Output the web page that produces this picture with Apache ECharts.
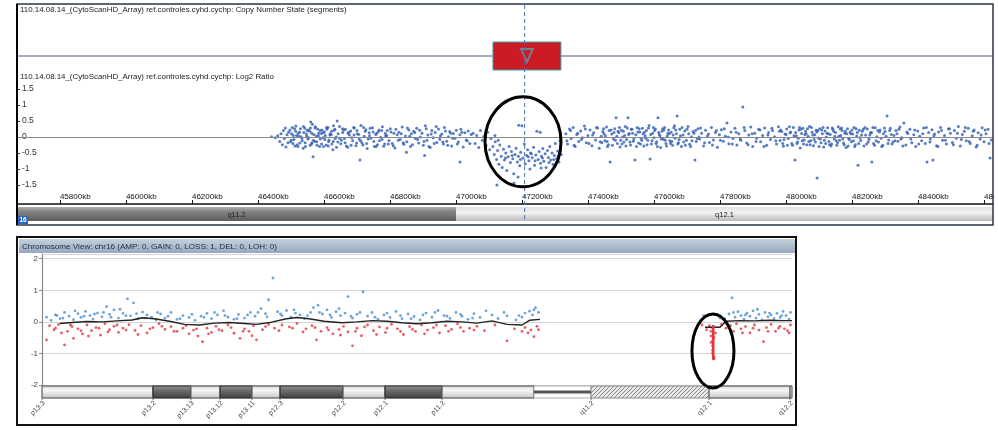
<!DOCTYPE html>
<html><head><meta charset="utf-8">
<script src="https://cdn.jsdelivr.net/npm/echarts@6/dist/echarts.min.js"></script>
<style>html,body{margin:0;padding:0;background:#fff}#c{width:998px;height:430px}</style>
</head><body><div id="c"></div>
<script>
// ---------- texts ----------
const titleCN = '110.14.08.14_(CytoScanHD_Array) ref.controles.cyhd.cychp: Copy Number State (segments)';
const titleLog2 = '110.14.08.14_(CytoScanHD_Array) ref.controles.cyhd.cychp: Log2 Ratio';
const titleChrom = 'Chromosome View: chr16 (AMP: 0, GAIN: 0, LOSS: 1, DEL: 0, LOH: 0)';
const chromNumber = '16';

// ---------- top panel (kb) ----------
const kbMin = 45670, kbMax = 48627;
const cursorKb = 47208;
const cnSegStart = [45670, 47112, 47318];
const cnSegEnd = [47112, 47318, 48627];
const cnSegState = [2, 1, 2];
const topBandNames = ['q11.2', 'q12.1'];
const topBandStart = [45670, 47000];
const topBandEnd = [47000, 48627];
const topBandStain = ['gpos', 'gneg'];
const topEllipse = [47203, -0.15];

const log2Start = [[46441,0.01],[46452,-0.02],[46460,0.04],[46466,-0.14],[46470,0.1],[46474,-0.24],[46477,0.2],[46480,-0.05],[46483,0.28],[46485,-0.31],[46488,0.07],[46491,-0.18],[46493,0.15]];
const log2Left = [
[46497,0.22],[46501,-0.1],[46507,0.05],[46512,-0.28],[46515,0.34],[46522,0.12],[46527,-0.19],[46531,0.01],[46537,-0.35],[46542,0.27],
[46547,0.09],[46551,-0.06],[46557,0.18],[46562,-0.22],[46565,0.4],[46572,-0.13],[46577,0.03],[46581,0.25],[46587,-0.3],[46592,0.11],
[46597,-0.02],[46601,0.16],[46607,-0.25],[46612,0.3],[46615,-0.09],[46622,0.07],[46627,-0.4],[46631,0.21],[46637,0.0],[46642,-0.16],
[46647,0.33],[46651,-0.21],[46657,0.14],[46662,-0.05],[46665,0.24],[46672,-0.32],[46677,0.06],[46681,0.19],[46687,-0.12],[46692,0.28],
[46697,-0.27],[46701,0.1],[46707,-0.07],[46712,0.36],[46715,-0.18],[46722,0.02],[46727,0.23],[46731,-0.36],[46737,0.13],[46742,-0.04],
[46747,0.29],[46751,-0.14],[46757,0.08],[46762,-0.24],[46765,0.17],[46772,-0.01],[46777,0.32],[46781,-0.29],[46787,0.04],[46792,0.2],
[46797,-0.11],[46801,0.26],[46807,-0.2],[46812,0.12],[46815,-0.34],[46822,0.07],[46827,0.15],[46831,-0.08],[46837,0.31],[46842,-0.23],
[46847,0.03],[46851,-0.15],[46857,0.22],[46862,-0.3],[46865,0.1],[46872,0.18],[46877,-0.05],[46881,0.27],[46887,-0.19],[46892,0.0],
[46897,0.12],[46901,-0.26],[46907,0.35],[46912,-0.1],[46915,0.06],[46922,-0.33],[46927,0.2],[46931,-0.02],[46937,0.14],[46942,-0.17],
[46947,0.25],[46951,-0.07],[46957,0.09],[46962,-0.22],[46965,0.3],[46972,-0.13],[46977,0.01],[46981,0.17],[46987,-0.28],[46992,0.11],
[46997,-0.04],[47001,0.21],[47007,-0.16],[47012,0.07],[47015,0.24],[47022,-0.31],[47027,0.13],[47031,-0.09],[47037,0.19],[47042,-0.2],
[46567,-0.62],[46709,-0.72],[46560,0.47],[46850,-0.48],[47012,-0.78],[46640,0.5],[46905,-0.58],
[46499,-0.15],[46504,0.3],[46509,-0.08],[46514,0.18],[46519,-0.24],[46524,0.02],[46529,0.26],[46534,-0.12],[46539,0.14],[46544,-0.3],
[46549,0.2],[46554,-0.02],[46559,0.28],[46564,-0.18],[46569,0.08],[46574,0.32],[46579,-0.26],[46584,0.12],[46589,-0.06],[46594,0.22],
[46599,-0.3],[46604,0.05],[46609,0.24],[46614,-0.14],[46619,0.1],[46624,-0.22],[46629,0.35],[46634,-0.05],
[46653,-0.1],[46660,0.22],[46668,-0.28],[46675,0.15],[46684,-0.02],[46690,0.3],[46699,-0.19],[46705,0.08],[46718,-0.25],[46725,0.18],
[46734,-0.06],[46740,0.27],[46753,-0.3],[46760,0.12],[46768,-0.12],[46775,0.2],[46784,-0.22],[46790,0.05],[46803,0.16],[46810,-0.27],
[46818,0.24],[46825,-0.1],[46834,0.1],[46840,-0.18],[46853,0.28],[46860,0.02],[46868,-0.24],[46875,0.14],[46884,-0.08],[46890,0.21],
[46903,-0.14],[46910,0.26],[46918,-0.3],[46925,0.09],[46934,-0.2],[46940,0.33],[46953,0.04],[46960,-0.16],[46968,0.19],[46975,-0.26],
[46984,0.12],[46990,-0.04],[47004,-0.22],[47018,0.15],[47034,-0.12],[47046,0.08],
[46502,0.1],[46506,-0.2],[46511,0.26],[46517,0.05],[46521,-0.3],[46526,0.15],[46533,-0.04],[46538,0.33],[46543,-0.18],[46548,0.02],
[46553,0.22],[46558,-0.26],[46563,0.12],[46568,-0.1],[46573,0.28],[46578,-0.15],[46583,0.04],[46588,0.2],[46593,-0.22],[46598,0.14],
[46603,-0.08],[46608,0.3],[46613,-0.28],[46618,0.06],[46623,0.18],[46628,-0.14],[46633,0.24],[46638,-0.32],[46643,0.1],[46648,-0.04],
[46656,0.26],[46664,-0.18],[46673,0.12],[46682,-0.26],[46691,0.06],[46700,0.2],[46711,-0.12],[46720,0.3],[46729,-0.2],[46738,0.04],
[46749,0.16],[46758,-0.3],[46767,0.22],[46776,-0.08],[46786,0.12],[46795,-0.22],
[47052,0.12],[47058,-0.2],[47063,0.05],[47069,-0.33],[47074,0.2],[47080,-0.1],[47085,0.02],[47091,-0.26],[47096,0.15],[47102,-0.4],[47106,-0.05]];
const log2Loss = [
[47112,-0.3],[47116,-0.55],[47119,-0.15],[47123,-0.7],[47126,-0.42],[47130,-0.85],[47133,-0.25],[47137,-0.6],[47140,-0.95],[47144,-0.38],
[47147,-0.72],[47151,-0.5],[47154,-1.05],[47158,-0.62],[47161,-0.3],[47165,-0.8],[47168,-0.45],[47172,-0.68],[47175,-1.15],[47179,-0.55],
[47182,-0.35],[47186,-0.78],[47189,-0.6],[47193,-0.9],[47196,-0.48],[47200,0.35],[47203,-0.66],[47207,-0.22],[47210,-0.84],[47214,-0.58],
[47217,-0.4],[47221,-0.74],[47224,-1.0],[47228,-0.52],[47231,-0.65],[47235,-0.32],[47238,-0.88],[47242,-0.56],[47245,0.18],[47249,-0.7],
[47252,-0.45],[47256,-0.82],[47259,-0.6],[47263,-0.36],[47266,-0.76],[47270,-0.52],[47273,-0.95],[47277,-0.42],[47280,-0.64],[47284,-0.3],
[47287,-0.72],[47291,-0.5],[47294,-0.86],[47298,-0.58],[47301,-0.2],[47305,-0.68],[47308,-0.44],[47312,-0.78],[47315,-0.12],[47319,-0.55],
[47176,-1.44],[47124,-1.5],[47188,-1.25],[47258,-0.97],[47190,0.37],[47255,0.15],[47118,0.05],[47128,-0.1],
[47150,-0.66],[47170,-0.58],[47195,-0.7],[47219,-0.62],[47240,-0.74],[47262,-0.66],[47282,-0.8],[47296,-0.7],[47310,-0.6],[47226,-0.5]];
const log2Right = [
[47333,0.1],[47338,-0.22],[47344,0.25],[47349,-0.05],[47355,0.3],[47361,-0.3],[47366,0.08],[47372,-0.14],[47378,0.19],[47383,-0.02],
[47389,0.34],[47395,-0.18],[47400,0.05],[47406,0.22],[47412,-0.27],[47417,0.13],[47423,-0.09],[47429,0.28],[47434,-0.35],[47440,0.02],
[47445,0.17],[47451,-0.12],[47456,0.31],[47462,-0.24],[47467,-0.78],[47472,0.09],[47477,-0.06],[47481,0.26],[47485,0.6],[47489,-0.2],
[47493,0.14],[47497,-0.31],[47501,0.21],[47505,0.0],[47509,-0.16],[47513,0.33],[47517,-0.08],[47521,0.6],[47525,0.11],[47529,-0.25],
[47533,0.24],[47537,-0.13],[47542,-0.72],[47545,0.07],[47549,0.3],[47553,-0.19],[47557,0.16],[47561,-0.04],[47565,0.27],[47569,-0.28],
[47573,0.04],[47577,0.2],[47581,-0.1],[47585,0.36],[47588,-0.69],[47592,-0.22],[47596,0.12],[47600,-0.02],[47604,0.25],[47608,-0.15],
[47612,0.6],[47616,0.08],[47620,-0.33],[47624,0.18],[47628,-0.07],[47632,0.3],[47636,-0.2],[47640,0.03],[47644,0.22],[47648,-0.12],
[47652,0.15],[47656,-0.26],[47660,0.29],[47664,-0.04],[47668,0.1],[47670,0.66],[47674,-0.18],[47678,0.24],[47683,-0.3],[47688,0.06],
[47693,0.19],[47698,-0.1],[47703,0.33],[47708,-0.23],[47713,0.01],[47718,0.17],[47724,-0.72],[47728,-0.14],[47733,0.26],[47738,-0.06],
[47744,0.12],[47750,-0.28],[47756,0.21],[47762,0.03],[47768,-0.17],[47774,0.3],[47780,-0.09],[47786,0.14],[47792,-0.32],[47798,0.07],
[47804,0.23],[47810,-0.13],[47816,0.02],[47821,0.44],[47827,-0.21],[47833,0.16],[47839,-0.05],[47845,0.27],[47851,-0.25],[47857,0.1],
[47863,-0.1],[47869,0.94],[47875,0.2],[47881,-0.19],[47887,0.06],[47893,0.31],[47899,-0.3],[47905,0.12],[47911,-0.04],[47917,0.24],
[47923,-0.15],[47929,0.05],[47935,0.28],[47941,-0.26],[47947,0.14],[47953,-0.08],[47959,0.2],[47965,0.01],[47971,-0.22],[47977,0.32],
[47982,-0.11],[47987,0.17],[47992,-0.29],[47997,0.09],[48002,0.25],[48007,-0.05],[48012,0.13],[48017,-0.2],[48022,0.3],[48027,-0.72],
[48031,0.04],[48035,-0.16],[48039,0.22],[48043,-0.34],[48047,0.11],[48051,0.27],[48055,-0.09],[48059,0.18],[48063,-0.24],[48067,0.02],
[48071,0.33],[48075,-0.12],[48079,0.15],[48083,-0.27],[48087,0.07],[48091,0.21],[48094,-1.28],[48098,-0.03],[48102,0.26],[48106,-0.18],
[48110,0.1],[48114,-0.31],[48118,0.19],[48122,0.0],[48126,0.29],[48130,-0.14],[48134,0.08],[48138,-0.22],[48142,0.24],[48146,-0.06],
[48150,0.14],[48154,-0.26],[48158,0.32],[48162,-0.1],[48166,0.05],[48170,0.2],[48174,-0.19],[48178,0.12],[48182,-0.33],[48186,0.26],
[48190,-0.04],[48194,0.16],[48198,-0.15],[48202,0.09],[48206,0.3],[48210,-0.24],[48214,0.03],[48218,-0.88],[48222,0.21],[48226,-0.11],
[48231,0.18],[48236,-0.28],[48241,0.06],[48246,0.25],[48251,-0.07],[48256,0.13],[48260,-0.78],[48265,-0.2],[48270,0.29],[48275,0.01],
[48280,-0.16],[48285,0.22],[48290,-0.3],[48295,0.1],[48300,0.17],[48306,0.66],[48311,-0.09],[48316,0.27],[48321,-0.22],[48327,0.05],
[48333,0.2],[48339,-0.13],[48345,0.31],[48351,-0.02],[48357,0.44],[48363,-0.25],[48369,0.11],[48375,0.24],[48381,-0.18],[48387,0.07],
[48393,-0.3],[48399,0.19],[48405,0.02],[48411,-0.12],[48417,0.28],[48422,-0.2],[48427,-0.78],[48432,0.14],[48437,-0.06],[48442,0.23],
[48445,-0.72],[48450,0.09],[48456,-0.27],[48462,0.16],[48468,0.3],[48474,-0.1],[48480,0.05],[48486,-0.22],[48492,0.25],[48498,0.12],
[48504,-0.17],[48510,0.2],[48516,-0.04],[48522,0.33],[48528,-0.28],[48534,0.08],[48540,0.18],[48546,-0.12],[48552,0.27],[48558,-0.2],
[48564,0.04],[48570,0.22],[48576,-0.31],[48582,0.13],[48588,-0.06],[48594,0.29],[48600,-0.15],[48606,0.1],[48612,0.24],[48618,-0.66],[48622,-0.09],
[47336,-0.12],[47347,0.2],[47358,-0.26],[47369,0.12],[47380,-0.08],[47392,0.25],[47403,-0.2],[47414,0.06],[47426,0.3],[47437,-0.15],
[47448,0.1],[47459,-0.3],[47470,0.22],[47483,-0.1],[47491,0.18],[47503,-0.22],[47511,0.05],[47519,0.28],[47527,-0.16],[47535,0.12],
[47547,-0.3],[47555,0.26],[47563,-0.1],[47571,0.15],[47579,-0.24],[47590,0.08],[47598,0.3],[47606,-0.2],[47614,0.14],[47622,-0.06],
[47630,0.22],[47638,-0.28],[47646,0.1],[47654,-0.14],[47662,0.35],[47672,-0.22],[47680,0.04],[47690,-0.16],[47700,0.24],[47711,-0.3],
[47721,0.12],[47731,-0.05],[47741,0.28],[47753,-0.18],[47765,0.09],[47777,-0.25],[47789,0.2],[47801,-0.1],[47813,0.26],[47825,0.0],
[47837,-0.22],[47849,0.15],[47861,-0.06],[47873,0.3],[47885,-0.24],[47897,0.1],[47909,-0.14],[47921,0.22],[47933,-0.3],[47945,0.06],
[47957,0.27],[47969,-0.12],[47980,0.18],[47990,-0.2],[48000,0.08],[48010,0.32],[48020,-0.26],[48029,0.14],[48037,-0.04],[48045,0.24],
[48053,-0.22],[48061,0.1],[48069,-0.14],[48077,0.3],[48085,-0.08],[48093,0.16],[48100,-0.3],[48108,0.22],[48116,-0.1],[48124,0.12],
[48132,-0.24],[48140,0.28],[48148,0.02],[48156,-0.18],[48164,0.25],[48172,-0.06],[48180,0.18],[48188,-0.28],[48196,0.1],[48204,-0.12],
[48212,0.26],[48220,-0.2],[48229,0.06],[48239,0.3],[48249,-0.16],[48259,0.14],[48268,-0.26],[48278,0.2],[48288,-0.04],[48298,0.28],
[48309,-0.2],[48319,0.08],[48330,-0.12],[48342,0.24],[48354,-0.28],[48366,0.16],[48378,-0.06],[48390,0.22],[48402,-0.22],[48414,0.1],
[48425,0.3],[48436,-0.16],[48448,0.04],[48460,-0.3],[48471,0.2],[48483,-0.1],[48495,0.26],[48507,-0.24],[48519,0.12],[48531,-0.08],
[48543,0.3],[48555,-0.14],[48567,0.18],[48579,-0.26],[48591,0.06],[48603,0.22],[48615,-0.2],
[47442,-0.18],[47447,0.26],[47453,0.04],[47458,-0.14],[47464,0.2],[47474,-0.26],[47479,0.14],[47487,0.02],[47495,0.3],[47499,-0.1],
[47507,0.18],[47515,-0.28],[47523,0.08],[47531,0.24],[47539,-0.06],[47551,0.16],[47559,-0.22],[47567,0.1],[47575,-0.04],[47583,0.28],
[47594,-0.12],[47602,0.2],[47610,-0.3],[47618,0.04],[47626,0.26],[47634,-0.1],[47642,0.12],[47650,-0.2],[47658,0.06],[47666,0.22],
[47676,-0.08],[47685,0.3],[47695,-0.26],[47705,0.1],[47715,-0.12],[47726,0.2],[47736,0.0],
[47984,0.22],[47994,-0.08],[48004,-0.26],[48014,0.16],[48024,0.04],[48033,-0.2],[48041,0.3],[48049,-0.12],[48057,0.08],[48065,0.26],
[48073,-0.24],[48081,0.06],[48089,-0.16],[48096,0.2],[48104,-0.06],[48112,0.3],[48120,-0.2],[48128,0.1],[48136,-0.28],[48144,0.18],
[48152,-0.12],[48160,0.02],[48168,0.28],[48176,-0.24],[48184,0.1],[48192,-0.08],[48200,0.22],[48208,-0.3],[48216,0.14],[48224,-0.02],
[48234,0.24],[48244,-0.22],[48254,0.06],[48263,0.3],[48273,-0.12],[48283,0.16],[48293,-0.26],[48303,0.02],[48314,0.2],[48324,-0.16],
[48336,0.1],[48348,-0.06]];

// ---------- bottom panel (Mb along the chromosome view) ----------
const mbMin = 0, mbMax = 50;
const bandNames = ['p13.3','p13.2','p13.13','p13.12','p13.11','p12.3','p12.2','p12.1','p11.2','','q11.2','q12.1','q12.2'];
const bandStart = [0, 7.4, 9.93, 11.87, 14.0, 15.87, 20.07, 22.87, 26.67, 32.8, 36.6, 44.47, 49.87];
const bandEnd   = [7.4, 9.93, 11.87, 14.0, 15.87, 20.07, 22.87, 26.67, 32.8, 36.6, 44.47, 49.87, 50];
const bandStain = ['gneg','gpos','gneg','gpos','gneg','gpos','gneg','gpos','gneg','acen','gvar','gneg','gneg'];
const bottomEllipse = [44.73, -0.92];

const gainPts = [
[0.3,0.15],[0.6,0.05],[0.9,0.22],[1.2,0.1],[1.5,0.3],[1.8,0.18],[2.1,0.07],[2.4,0.26],[2.6,0.14],[2.9,0.33],
[3.2,0.2],[3.4,0.09],[3.7,0.28],[4.0,0.16],[4.3,0.48],[4.5,0.24],[4.8,0.38],[5.1,0.12],[5.4,0.27],[5.7,0.73],
[5.9,0.19],[6.1,0.6],[6.4,0.1],[6.7,0.31],[7.0,0.22],[7.3,0.15],[7.6,0.06],[7.9,0.25],[8.2,0.12],[8.6,0.3],
[9.0,0.08],[9.4,0.2],[9.8,0.14],[10.2,0.05],[10.6,0.18],[11.0,0.27],[11.3,0.1],[11.7,0.22],[12.1,0.35],[12.4,0.15],
[12.8,0.08],[13.1,0.24],[13.5,0.12],[13.9,0.3],[14.2,0.18],[14.6,0.42],[14.9,0.26],[15.1,0.7],[15.4,1.39],[15.7,0.32],
[16.0,0.2],[16.3,0.36],[16.6,0.15],[16.9,0.28],[17.2,0.22],[17.5,0.1],[17.9,0.3],[18.1,0.45],[18.4,0.53],[18.7,0.25],
[19.0,0.38],[19.3,0.14],[19.6,0.32],[19.9,0.2],[20.2,0.28],[20.4,0.8],[20.7,0.12],[21.0,0.24],[21.4,0.95],[21.7,0.18],
[22.0,0.3],[22.4,0.08],[22.8,0.22],[23.2,0.14],[23.6,0.33],[24.0,0.1],[24.4,0.25],[24.8,0.17],[25.2,0.06],[25.6,0.28],
[26.0,0.15],[26.4,0.36],[26.8,0.2],[27.2,0.11],[27.6,0.3],[28.0,0.18],[28.4,0.08],[28.8,0.26],[29.2,0.14],[29.6,0.35],
[30.0,0.22],[30.4,0.1],[31.0,0.19],[31.6,0.06],[32.2,0.28],[32.5,0.34],[32.7,0.22],[32.9,0.45],[33.1,0.3],[31.8,0.2],
[1.0,0.2],[1.4,0.12],[2.2,0.35],[2.8,0.18],[3.5,0.25],[4.1,0.3],[4.6,0.15],[5.2,0.4],[5.6,0.2],[6.3,0.26],
[6.9,0.12],[7.7,0.3],[8.4,0.18],[9.2,0.1],[10.0,0.24],[10.8,0.14],[11.5,0.3],[12.2,0.2],[13.0,0.1],[13.7,0.22],
[14.4,0.3],[15.0,0.16],[15.9,0.25],[16.8,0.38],[17.7,0.2],[18.5,0.3],[19.2,0.22],[19.8,0.42],[20.6,0.18],[21.2,0.3],
[22.2,0.15],[23.0,0.28],[23.9,0.2],[24.6,0.1],[25.4,0.22],[26.2,0.3],[27.0,0.18],[27.9,0.24],[28.7,0.12],[30.8,0.3],
[32.0,0.15],[32.8,0.38],
[45.5,0.1],[45.8,0.25],[46.0,0.76],[46.2,0.15],[46.4,0.32],[46.6,0.2],[46.8,0.08],[47.0,0.28],[47.2,0.18],[47.4,0.35],
[47.6,0.12],[47.8,0.24],[48.0,0.06],[48.2,0.3],[48.4,0.16],[48.6,0.22],[48.8,0.1],[49.0,0.27],[49.2,0.14],[49.4,0.33],
[49.6,0.2],[49.8,0.09],[44.1,0.2],[45.2,0.12],[46.1,0.3],[46.9,0.22],[47.7,0.4],[48.5,0.28],[49.3,0.2],[49.9,0.3]];
const lossPts = [
[0.3,-0.57],[0.5,-0.12],[0.8,-0.25],[1.1,-0.08],[1.5,-0.73],[1.7,-0.3],[2.0,-0.15],[2.1,-0.52],[2.4,-0.22],[2.7,-0.38],
[3.0,-0.1],[3.3,-0.28],[3.6,-0.18],[3.9,-0.42],[4.2,-0.06],[4.5,-0.25],[4.8,-0.14],[5.1,-0.33],[5.4,-0.2],[5.8,-0.09],
[6.2,-0.27],[6.6,-0.12],[7.0,-0.35],[7.4,-0.18],[7.8,-0.06],[8.2,-0.24],[8.6,-0.15],[9.0,-0.3],[9.4,-0.2],[9.8,-0.38],
[10.1,-0.26],[10.4,-0.45],[10.7,-0.63],[11.0,-0.2],[11.3,-0.33],[11.6,-0.14],[12.0,-0.28],[12.4,-0.1],[12.8,-0.36],[13.2,-0.52],
[13.5,-0.22],[13.8,-0.3],[14.1,-0.12],[14.3,-0.57],[14.7,-0.25],[15.1,-0.08],[15.5,-0.2],[16.0,-0.1],[16.5,-0.16],[17.0,-0.05],
[17.6,-0.22],[18.0,-0.12],[18.3,-0.57],[18.6,-0.3],[19.0,-0.18],[19.4,-0.38],[19.8,-0.24],[20.1,-0.14],[20.4,-0.32],[20.7,-0.76],
[21.0,-0.2],[21.3,-0.44],[21.7,-0.1],[22.1,-0.28],[22.5,-0.16],[22.9,-0.34],[23.3,-0.08],[23.7,-0.22],[24.1,-0.4],[24.5,-0.15],
[24.9,-0.3],[25.3,-0.1],[25.7,-0.26],[26.1,-0.18],[26.5,-0.35],[26.9,-0.12],[27.3,-0.24],[27.7,-0.06],[28.1,-0.3],[28.5,-0.2],
[29.0,-0.14],[29.5,-0.28],[30.2,-0.1],[31.0,-0.6],[31.5,-0.22],[32.2,-0.18],[32.4,-0.35],[32.6,-0.26],[32.8,-0.47],[33.0,-0.14],
[0.9,-0.2],[1.3,-0.35],[1.9,-0.1],[2.6,-0.28],[3.1,-0.45],[3.8,-0.2],[4.4,-0.32],[5.0,-0.1],[5.6,-0.26],[6.4,-0.4],
[7.2,-0.22],[8.0,-0.14],[8.8,-0.3],[9.6,-0.12],[10.3,-0.22],[11.1,-0.38],[11.8,-0.25],[12.6,-0.18],[13.4,-0.3],[14.0,-0.44],
[14.9,-0.15],[15.8,-0.28],[16.7,-0.2],[17.4,-0.32],[18.2,-0.18],[19.1,-0.26],[19.9,-0.42],[20.9,-0.3],[21.5,-0.16],[22.3,-0.4],
[23.0,-0.2],[23.9,-0.3],[24.7,-0.24],[25.5,-0.38],[26.3,-0.1],[27.1,-0.3],[27.9,-0.18],[28.8,-0.26],[32.0,-0.3],[33.1,-0.25],
[44.0,-0.1],[44.3,-0.25],[45.3,-0.08],[45.6,-0.2],[45.9,-0.12],[46.1,-0.3],[46.3,-0.06],[46.6,-0.22],[46.9,-0.15],[47.2,-0.35],
[47.5,-0.1],[47.8,-0.26],[48.1,-0.63],[48.3,-0.18],[48.6,-0.08],[48.9,-0.3],[49.2,-0.14],[49.5,-0.22],[49.8,-0.35],[49.9,-0.1],
[45.9,-0.28],[46.7,-0.35],[47.4,-0.2],[48.4,-0.3],[49.1,-0.2],[49.7,-0.28],
[44.5,-0.12],[44.6,-0.3],[44.6,-0.45],[44.7,-0.2],[44.7,-0.6],[44.7,-0.75],[44.7,-0.9],[44.7,-1.0],[44.8,-1.12],[44.8,-1.18],
[44.8,-0.5],[44.6,-0.65],[44.8,-2.05],[44.9,-0.35]];
const lossSegment = [[44.75,-0.1],[44.75,-1.2]];
const smoothLeft = [[1.2,-0.05],[2,-0.02],[3,0.01],[4,0.0],[5,0.03],[6,0.06],[6.7,0.13],[7.5,0.1],[8.5,0.02],[9.5,-0.08],[10.5,-0.1],[11.5,-0.04],[12.5,-0.02],[13.5,-0.05],[14.3,-0.08],[15.3,-0.01],[16.3,0.1],[17,0.14],[17.8,0.1],[18.8,0.02],[20,-0.03],[21,0.0],[22,0.04],[23,0.02],[24,-0.03],[25,-0.06],[26,-0.03],[27,0.02],[28,0.0],[29,-0.04],[30,0.03],[31,-0.08],[32,-0.1],[32.5,0.05],[33.2,0.08]];
const smoothRight = [[44.2,-0.17],[45.2,-0.17],[45.6,0.02],[46.5,0.04],[47.5,0.03],[48.5,0.05],[49.5,0.04],[50,0.04]];

// ---------- chart ----------
const FONT = '"Liberation Sans", Arial, sans-serif';
const chart = echarts.init(document.getElementById('c'), null, {renderer: 'canvas'});

function renderCN(params, api) {
  const s = api.coord([api.value(0), 1]);
  const e = api.coord([api.value(1), 1]);
  const st = api.value(2);
  if (st === 2) {
    return {type: 'line', shape: {x1: s[0], y1: s[1], x2: e[0], y2: e[1]}, style: {stroke: '#8f91ad', lineWidth: 1.6}};
  }
  const h = 28, cx = (s[0] + e[0]) / 2, cy = s[1];
  return {type: 'group', children: [
    {type: 'rect', shape: {x: s[0], y: cy - h / 2, width: e[0] - s[0], height: h}, style: {fill: '#cc1b24', stroke: '#3aa6b4', lineWidth: 1}},
    {type: 'polygon', shape: {points: [[cx - 6, cy - 7], [cx + 6, cy - 7], [cx, cy + 6]]}, style: {fill: 'none', stroke: '#76808e', lineWidth: 1.8}}
  ]};
}
function renderTopBand(params, api) {
  const i = params.dataIndex;
  const s = api.coord([api.value(0), 1]), e = api.coord([api.value(1), 0]);
  const dark = topBandStain[i] === 'gpos';
  const fill = new echarts.graphic.LinearGradient(0, 0, 0, 1, dark
    ? [{offset: 0, color: '#b0b0b0'}, {offset: 0.3, color: '#858585'}, {offset: 1, color: '#5c5c5c'}]
    : [{offset: 0, color: '#e2e2e2'}, {offset: 0.4, color: '#f2f2f2'}, {offset: 1, color: '#b9b9b9'}]);
  return {type: 'group', children: [
    {type: 'rect', shape: {x: s[0], y: s[1], width: e[0] - s[0], height: e[1] - s[1]}, style: {fill: fill}},
    {type: 'text', x: (s[0] + e[0]) / 2, y: (s[1] + e[1]) / 2 + 1, style: {text: topBandNames[i], fill: '#222', fontSize: 7.5, fontFamily: FONT, align: 'center', verticalAlign: 'middle'}}
  ]};
}
const hatch = document.createElement('canvas');
hatch.width = 4; hatch.height = 4;
(function () { const g = hatch.getContext('2d'); g.fillStyle = '#e8e8e8'; g.fillRect(0, 0, 4, 4); g.strokeStyle = '#8c8c8c'; g.lineWidth = 1; g.beginPath(); g.moveTo(0, 4); g.lineTo(4, 0); g.moveTo(-1, 1); g.lineTo(1, -1); g.moveTo(3, 5); g.lineTo(5, 3); g.stroke(); })();

function renderIdeo(params, api) {
  const i = params.dataIndex;
  const s = api.coord([api.value(0), 1]), e = api.coord([api.value(1), 0]);
  const x0 = s[0], y0 = s[1], w = e[0] - s[0], h = e[1] - s[1];
  const stain = bandStain[i];
  const ch = [];
  if (stain === 'acen') {
    ch.push({type: 'rect', shape: {x: x0, y: y0, width: w, height: h}, style: {fill: '#fff', stroke: '#999', lineWidth: 0.8}});
    ch.push({type: 'rect', shape: {x: x0, y: y0 + h / 2 - 1.5, width: w, height: 3}, style: {fill: '#555'}});
  } else if (stain === 'gvar') {
    ch.push({type: 'rect', shape: {x: x0, y: y0, width: w, height: h}, style: {fill: {image: hatch, repeat: 'repeat'}, stroke: '#777', lineWidth: 0.8}});
  } else if (stain === 'gpos') {
    ch.push({type: 'rect', shape: {x: x0, y: y0, width: w, height: h}, style: {fill: new echarts.graphic.LinearGradient(0, 0, 0, 1, [{offset: 0, color: '#9a9a9a'}, {offset: 0.35, color: '#6e6e6e'}, {offset: 1, color: '#3f3f3f'}]), stroke: '#333', lineWidth: 0.8}});
  } else {
    ch.push({type: 'rect', shape: {x: x0, y: y0, width: w, height: h}, style: {fill: new echarts.graphic.LinearGradient(0, 0, 0, 1, [{offset: 0, color: '#d6d6d6'}, {offset: 0.35, color: '#f7f7f7'}, {offset: 1, color: '#c4c4c4'}]), stroke: '#666', lineWidth: 0.8}});
  }
  if (bandNames[i]) {
    ch.push({type: 'line', shape: {x1: x0, y1: y0 + h, x2: x0, y2: y0 + h + 2}, style: {stroke: '#555', lineWidth: 0.8}});
    ch.push({type: 'text', x: x0 + 2, y: y0 + h + 4, rotation: Math.PI / 4, style: {text: bandNames[i], align: 'right', verticalAlign: 'middle', fontSize: 7, fontFamily: FONT, fill: '#444'}});
  }
  return {type: 'group', children: ch};
}

const gridBase = {outerBoundsMode: 'none', containLabel: false};
const option = {
  animation: false,
  backgroundColor: '#fff',
  grid: [
    Object.assign({left: 17, top: 36, width: 976, height: 40}, gridBase),
    Object.assign({left: 17, top: 81, width: 976, height: 120}, gridBase),
    Object.assign({left: 17, top: 207, width: 976, height: 14}, gridBase),
    Object.assign({left: 42, top: 254, width: 750, height: 131}, gridBase),
    Object.assign({left: 42, top: 386, width: 750, height: 12}, gridBase)
  ],
  xAxis: [
    {gridIndex: 0, type: 'value', min: kbMin, max: kbMax, show: false},
    {gridIndex: 1, type: 'value', min: kbMin, max: kbMax, splitNumber: 14, minInterval: 200, maxInterval: 200, offset: 3,
     axisLine: {onZero: false, lineStyle: {color: '#111', width: 1.5}},
     axisTick: {inside: true, length: 4, lineStyle: {color: '#111'}},
     axisLabel: {inside: true, margin: 3, align: 'left', fontSize: 8, fontFamily: FONT, color: '#111', showMinLabel: false, showMaxLabel: false, formatter: v => v + 'kb'},
     splitLine: {show: false}},
    {gridIndex: 2, type: 'value', min: kbMin, max: kbMax, show: false},
    {gridIndex: 3, type: 'value', min: mbMin, max: mbMax, show: false},
    {gridIndex: 4, type: 'value', min: mbMin, max: mbMax, show: false}
  ],
  yAxis: [
    {gridIndex: 0, type: 'value', min: 0, max: 2, show: false},
    {gridIndex: 1, type: 'value', min: -2, max: 1.75, interval: 0.5,
     axisLine: {show: true, onZero: false, lineStyle: {color: '#000', width: 2}},
     axisTick: {show: true, inside: true, length: 3, lineStyle: {color: '#333'}},
     axisLabel: {inside: true, margin: 5, fontSize: 8.5, fontFamily: FONT, color: '#333', showMinLabel: false, showMaxLabel: false},
     splitLine: {show: false}},
    {gridIndex: 2, type: 'value', min: 0, max: 1, show: false},
    {gridIndex: 3, type: 'value', min: -2, max: 2.15, interval: 1,
     axisLine: {show: true, onZero: false, lineStyle: {color: '#8a8a8a', width: 1.2}},
     axisTick: {show: true, length: 3, lineStyle: {color: '#8a8a8a'}},
     axisLabel: {margin: 4, fontSize: 8, fontFamily: FONT, color: '#444', showMaxLabel: false},
     splitLine: {show: true, lineStyle: {color: '#d4d4d4', width: 1}}},
    {gridIndex: 4, type: 'value', min: 0, max: 1, show: false}
  ],
  series: [
    {type: 'custom', xAxisIndex: 0, yAxisIndex: 0, renderItem: renderCN, encode: {x: [0, 1]},
     data: cnSegStart.map((s, i) => [s, cnSegEnd[i], cnSegState[i]]), silent: true},
    {type: 'scatter', xAxisIndex: 1, yAxisIndex: 1, symbolSize: 3, itemStyle: {color: '#2f5db3'}, silent: true, large: false,
     data: log2Start.concat(log2Left, log2Loss, log2Right),
     markLine: {silent: true, symbol: 'none', label: {show: false}, lineStyle: {color: '#8a8a8a', width: 1.2, type: 'solid'}, data: [{yAxis: 0}]}},
    {type: 'custom', xAxisIndex: 2, yAxisIndex: 2, renderItem: renderTopBand, encode: {x: [0, 1]},
     data: topBandStart.map((s, i) => [s, topBandEnd[i]]), silent: true},
    {type: 'line', xAxisIndex: 3, yAxisIndex: 3, data: smoothLeft, showSymbol: false, lineStyle: {color: '#222', width: 1.4}, silent: true, z: 3},
    {type: 'line', xAxisIndex: 3, yAxisIndex: 3, data: smoothRight, showSymbol: false, lineStyle: {color: '#222', width: 1.4}, silent: true, z: 3},
    {type: 'scatter', xAxisIndex: 3, yAxisIndex: 3, symbolSize: 2.8, itemStyle: {color: '#4a8cca'}, data: gainPts, silent: true},
    {type: 'scatter', xAxisIndex: 3, yAxisIndex: 3, symbolSize: 2.8, itemStyle: {color: '#e3333d'}, data: lossPts, silent: true},
    {type: 'line', xAxisIndex: 3, yAxisIndex: 3, data: lossSegment, showSymbol: false, lineStyle: {color: '#e8333d', width: 2.5}, silent: true},
    {type: 'custom', xAxisIndex: 4, yAxisIndex: 4, renderItem: renderIdeo, encode: {x: [0, 1]},
     data: bandStart.map((s, i) => [s, bandEnd[i]]), silent: true}
  ]
};
chart.setOption(option);

const cur = chart.convertToPixel({xAxisIndex: 1, yAxisIndex: 1}, [cursorKb, 0]);
const e1 = chart.convertToPixel({xAxisIndex: 1, yAxisIndex: 1}, topEllipse);
const e2 = chart.convertToPixel({xAxisIndex: 3, yAxisIndex: 3}, bottomEllipse);

chart.setOption({graphic: {elements: [
  {type: 'rect', shape: {x: 17, y: 4, width: 976, height: 221}, style: {fill: 'none', stroke: '#2b3448', lineWidth: 1.5}, z: 40, silent: true},
  {type: 'line', shape: {x1: 17, y1: 4, x2: 17, y2: 225}, style: {stroke: '#000', lineWidth: 2}, z: 41, silent: true},
  {type: 'rect', shape: {x: 994, y: 183, width: 4, height: 24}, style: {fill: '#fff'}, z: 39, silent: true},
  {type: 'text', x: 20, y: 10, style: {text: titleCN, fontSize: 7.9, fontFamily: FONT, fill: '#222', verticalAlign: 'middle'}, z: 40},
  {type: 'text', x: 20, y: 77, style: {text: titleLog2, fontSize: 7.9, fontFamily: FONT, fill: '#222', verticalAlign: 'middle'}, z: 40},
  {type: 'rect', shape: {x: 18, y: 216, width: 10, height: 8}, style: {fill: '#2368c4'}, z: 42},
  {type: 'text', x: 23, y: 220.5, style: {text: chromNumber, fontSize: 6.5, fontFamily: FONT, fontWeight: 'bold', fill: '#fff', align: 'center', verticalAlign: 'middle'}, z: 43},
  {type: 'line', shape: {x1: cur[0], y1: 5, x2: cur[0], y2: 222}, style: {stroke: '#4a6fb3', lineWidth: 1, lineDash: [4, 3]}, z: 30, silent: true},
  {type: 'rect', shape: {x: 17, y: 237, width: 779, height: 188}, style: {fill: 'none', stroke: '#111', lineWidth: 2}, z: 40, silent: true},
  {type: 'rect', shape: {x: 19, y: 239, width: 776, height: 14}, style: {fill: new echarts.graphic.LinearGradient(0, 0, 0, 1, [{offset: 0, color: '#c5d0dc'}, {offset: 1, color: '#98a9be'}])}, z: 35, silent: true},
  {type: 'text', x: 22, y: 246.5, style: {text: titleChrom, fontSize: 8.1, fontFamily: FONT, fill: '#1b2a40', verticalAlign: 'middle'}, z: 36},
  {type: 'ellipse', shape: {cx: e1[0], cy: e1[1], rx: 38, ry: 45}, style: {fill: 'none', stroke: '#000', lineWidth: 3}, z: 50, silent: true},
  {type: 'ellipse', shape: {cx: e2[0], cy: e2[1], rx: 21, ry: 37}, style: {fill: 'none', stroke: '#000', lineWidth: 3}, z: 50, silent: true}
]}});
</script>
</body></html>
